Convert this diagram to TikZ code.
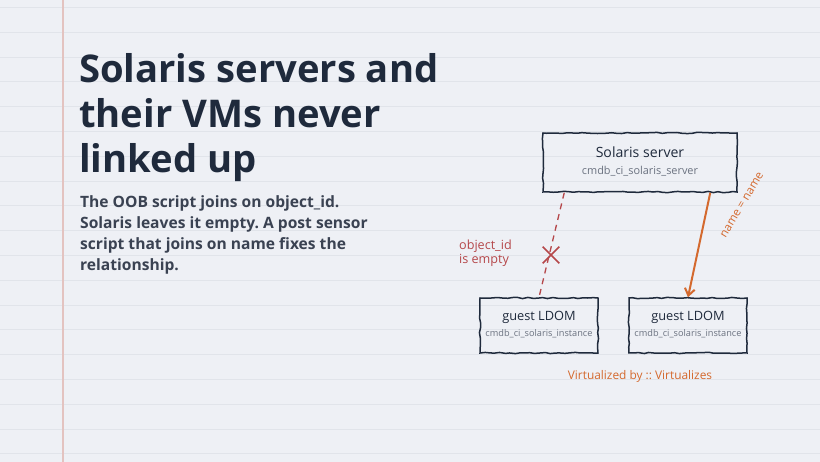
\documentclass[tikz,border=0pt]{standalone}
\usepackage{fontspec}
\setmainfont{Open Sans}
\frenchspacing
\usetikzlibrary{decorations.pathmorphing,arrows.meta,shapes.misc,calc}
\definecolor{bg}{HTML}{EEF0F5}
\definecolor{rule}{HTML}{E1E4EA}
\definecolor{margin}{HTML}{E3C3C0}
\definecolor{ink}{HTML}{1F2A3C}
\definecolor{body}{HTML}{3A4252}
\definecolor{sub}{HTML}{6B7280}
\definecolor{warn}{HTML}{B5474A}
\definecolor{accent}{HTML}{D4692E}
\tikzset{
  sketchbox/.style={draw=ink, line width=1.5pt, decorate,
    decoration={random steps, segment length=5pt, amplitude=0.6pt},
    align=center, inner sep=0pt},
  titletext/.style={anchor=base west, inner sep=0pt, text=ink, font=\fontsize{38.2}{45}\selectfont\bfseries},
  bodytext/.style={anchor=base west, inner sep=0pt, text=body, font=\fontsize{15.6}{21}\selectfont\bfseries},
  warntext/.style={anchor=base west, inner sep=0pt, text=warn, font=\fontsize{12.6}{13}\selectfont},
  ldomtitle/.style={anchor=base, inner sep=0pt, text=ink, font=\fontsize{12.8}{14}\selectfont},
  ldomsub/.style={anchor=base, inner sep=0pt, text=sub, font=\fontsize{9.2}{11}\selectfont},
}
\begin{document}
\pgfmathsetseed{7}
\begin{tikzpicture}[x=1pt,y=-1pt]
\useasboundingbox (0,0) rectangle (820,462);
\fill[bg] (0,0) rectangle (820,462);
\foreach \k in {0,...,18} {
  \draw[rule, line width=0.8pt] (0,7.5+24.8*\k) -- (820,7.5+24.8*\k);
}
\draw[margin, line width=1.2pt] (63,0) -- (63,462);

% title
\node[titletext] (t1) at (79,83) {Solaris servers and};
\node[titletext] (t2) at (79,128) {their VMs never};
\node[titletext] (t3) at (79,173) {linked up};

% body
\node[bodytext] (b1) at (80,208) {The OOB script joins on object\_id.};
\node[bodytext] (b2) at (80,229) {Solaris leaves it empty. A post sensor};
\node[bodytext] (b3) at (80,250) {script that joins on name fixes the};
\node[bodytext] (b4) at (80,271) {relationship.};

% boxes
\node[sketchbox, minimum width=194pt, minimum height=59pt] (srv) at (640,162.5) {};
\node[anchor=base, inner sep=0pt, text=ink, font=\fontsize{14.1}{16}\selectfont] (srvt) at (640,158) {Solaris server};
\node[anchor=base, inner sep=0pt, text=sub, font=\fontsize{10.9}{12}\selectfont] (srvs) at (640,175) {cmdb\_ci\_solaris\_server};

\node[sketchbox, minimum width=118pt, minimum height=55pt] (l1) at (539,325.5) {};
\node[ldomtitle] (l1t) at (539,320.5) {guest LDOM};
\node[ldomsub] (l1s) at (539,336.5) {cmdb\_ci\_solaris\_instance};

\node[sketchbox, minimum width=118pt, minimum height=55pt] (r1) at (688,325.5) {};
\node[ldomtitle] (r1t) at (688,320.5) {guest LDOM};
\node[ldomsub] (r1s) at (688,336.5) {cmdb\_ci\_solaris\_instance};

% broken link
\draw[warn, line width=1.3pt, dash pattern=on 6pt off 5pt] ([xshift=22pt]srv.south west) -- (l1.north);
\node[cross out, draw=warn, line width=1.6pt, minimum width=15pt, minimum height=15pt, inner sep=0pt] (x) at (551,255) {};
\node[warntext] (oid1) at (459,250) {object\_id};
\node[warntext] (oid2) at (459,263.5) {is empty};

% fixed link
\draw[accent, line width=2pt, -{Straight Barb[length=7pt,width=10pt,line width=2pt]}] ([xshift=168pt]srv.south west) -- (r1.north);
\node[text=accent, font=\fontsize{11.5}{14}\selectfont, rotate=59, inner sep=0pt] (nn) at (742,205) {name = name};

\node[anchor=base, inner sep=0pt, text=accent, font=\fontsize{11.9}{14}\selectfont] (virt) at (640,380) {Virtualized by :: Virtualizes};
\end{tikzpicture}
\end{document}
